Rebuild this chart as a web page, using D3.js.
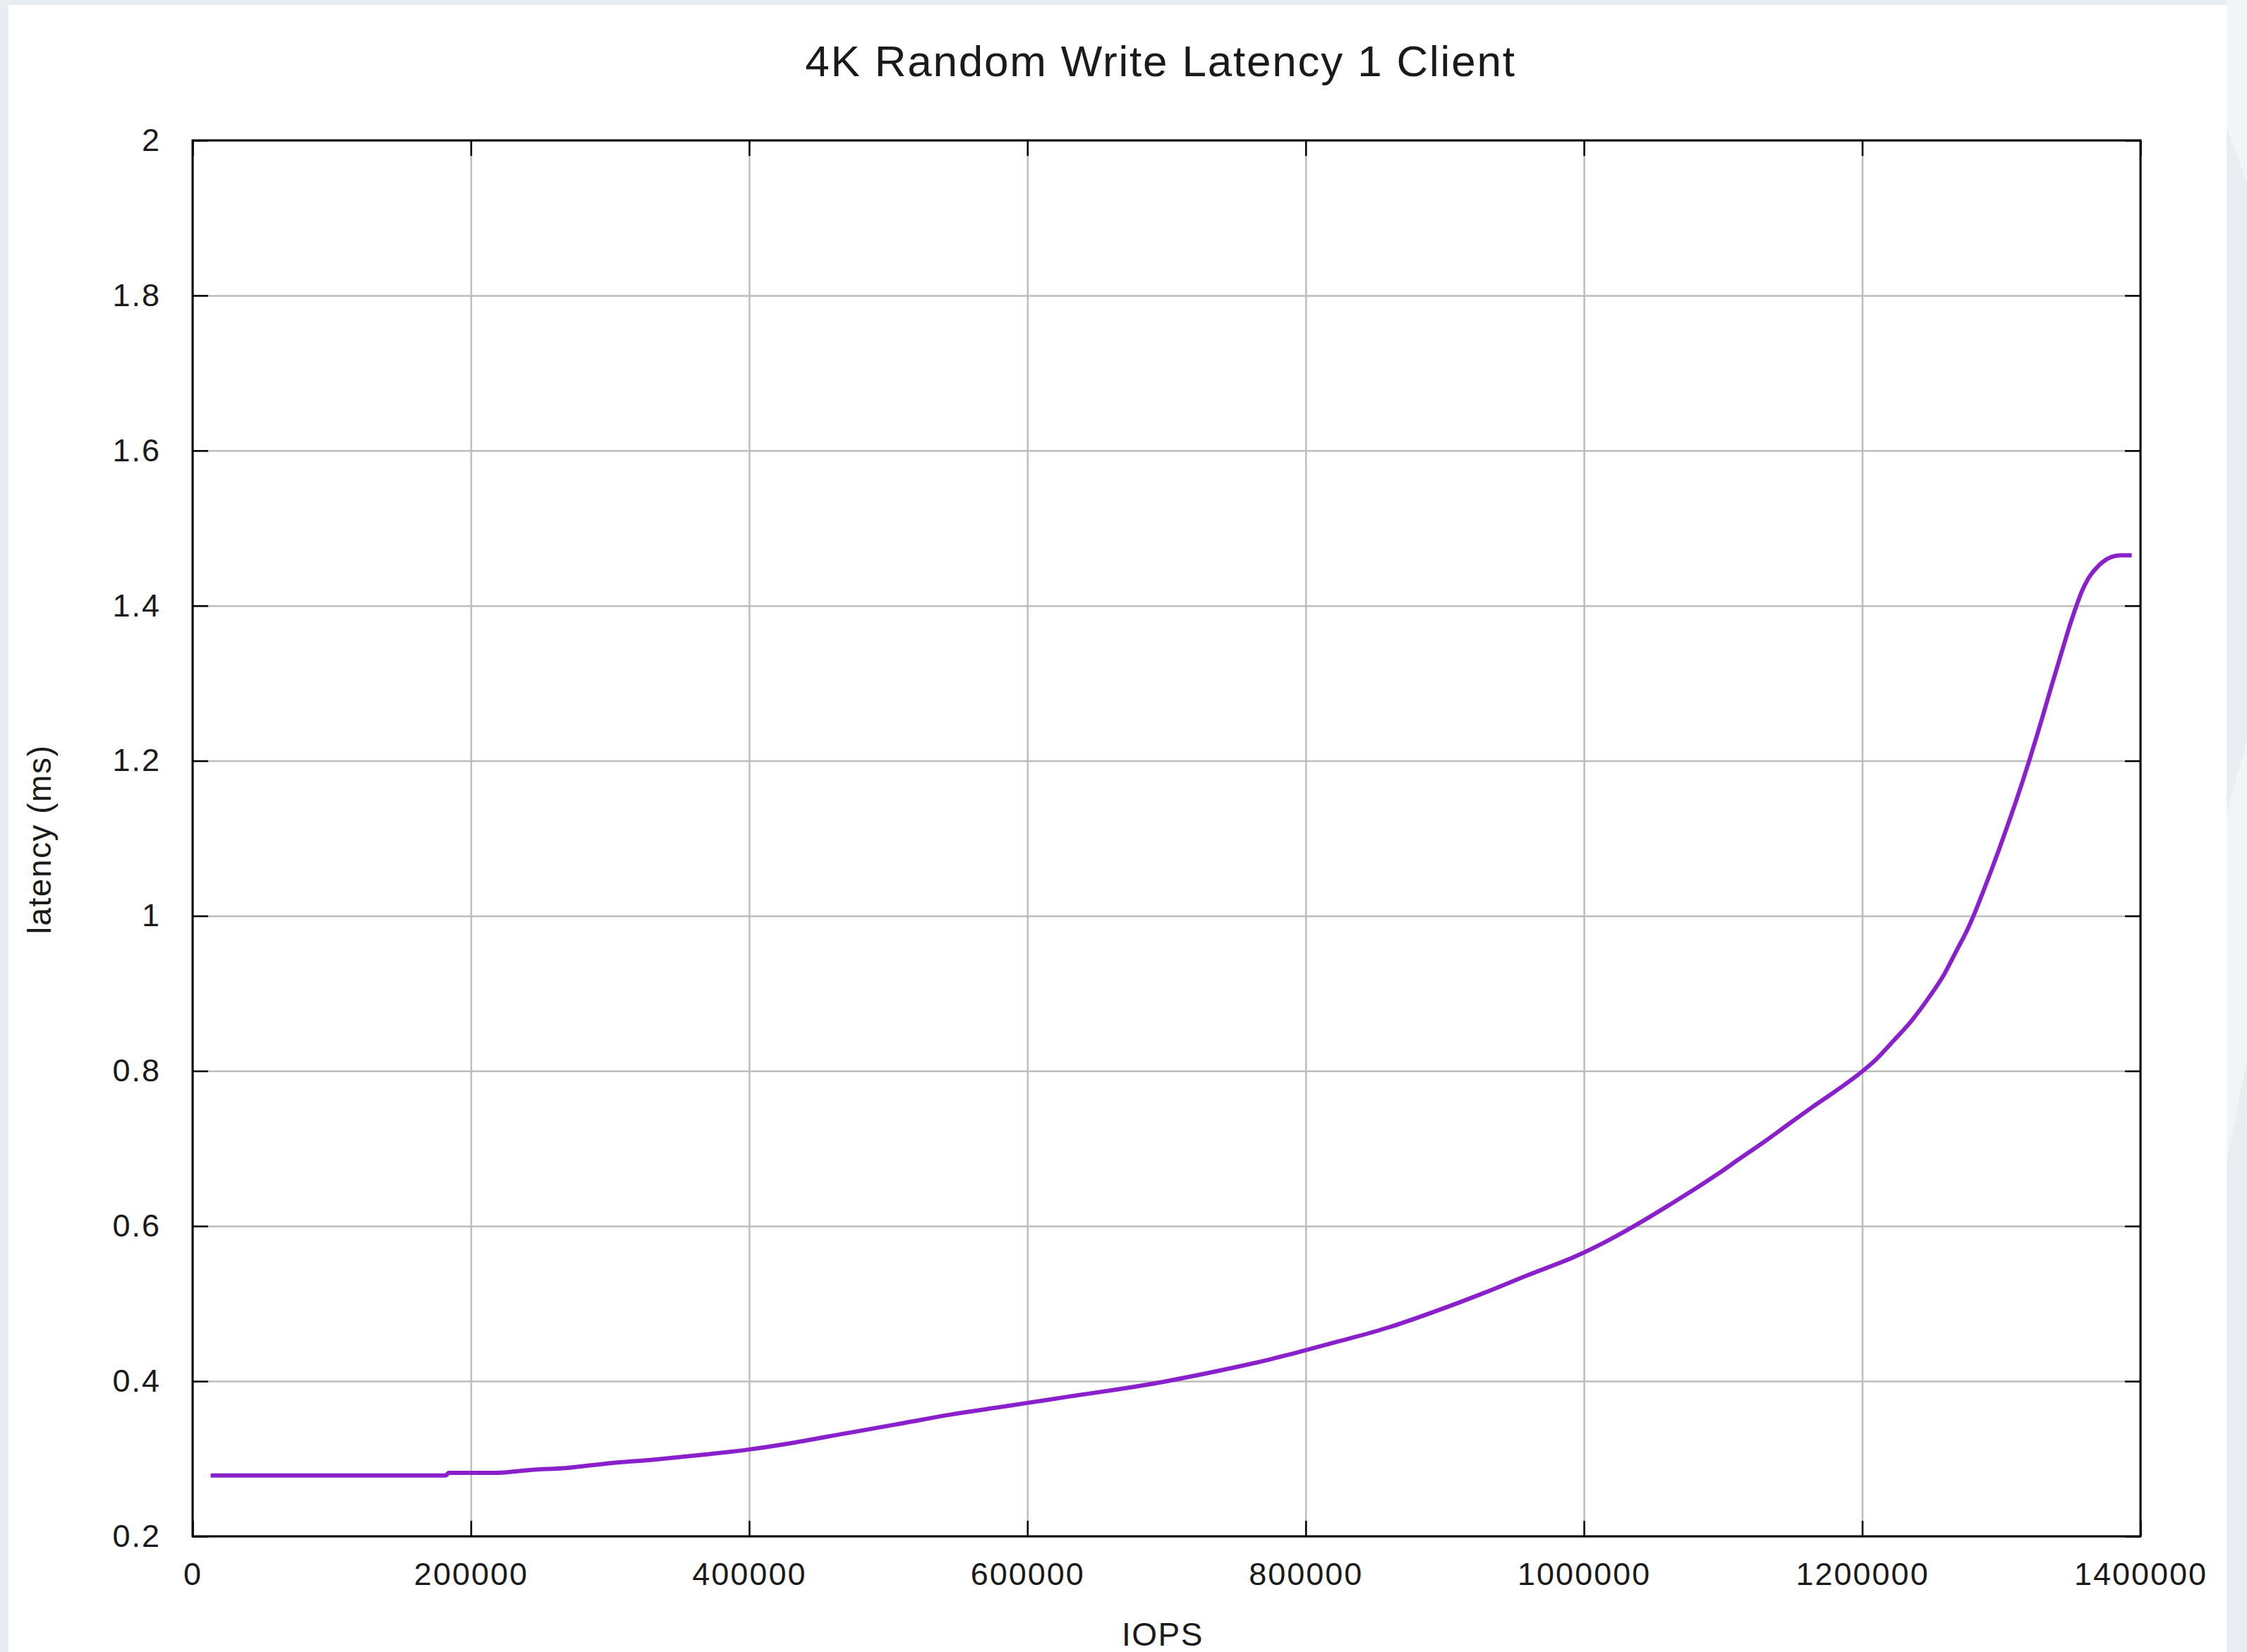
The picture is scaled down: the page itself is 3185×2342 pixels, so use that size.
<!DOCTYPE html>
<html>
  <head>
    <script src="https://d3js.org/d3.v7.min.js"></script>
    <style>
      body { margin: 0; background: #e7edf0; }
      svg { display: block; }
      text { font-family: "Liberation Sans", Arial, sans-serif; fill: #1a1a1a; }
    </style>
  </head>
  <body>
    <svg id="chart" width="3185" height="2342"></svg>

    <script>
      // data
      const iops = [13000, 100000, 182000, 184000, 217000, 246000, 268000, 298000, 332000, 366000,
        400000, 433000, 467000, 511000, 545000, 578000, 600000, 629000, 663000, 697000,
        731000, 774000, 800000, 825000, 859000, 893000, 927000, 960000, 994000, 1020000,
        1037000, 1062000, 1079000, 1096000, 1112000, 1129000, 1146000, 1163000, 1180000,
        1199000, 1210000, 1222000, 1236000, 1248000, 1259000, 1268000, 1275000, 1280000, 1286000,
        1292000, 1298000, 1304000, 1310000, 1315000, 1320000, 1325000, 1330000, 1335000, 1340000,
        1345000, 1350000, 1354000, 1358000, 1362500, 1367500, 1372600, 1379400, 1386100,
        1393700]
      const latency = [0.2785, 0.2785, 0.2785, 0.2818, 0.2818, 0.286, 0.288, 0.294, 0.299, 0.305,
        0.312, 0.321, 0.332, 0.346, 0.357, 0.366, 0.372, 0.380, 0.389, 0.399,
        0.411, 0.428, 0.440, 0.452, 0.469, 0.490, 0.513, 0.537, 0.561, 0.584,
        0.601, 0.628, 0.647, 0.667, 0.687, 0.708, 0.730, 0.752, 0.773,
        0.798, 0.815, 0.838, 0.866, 0.895, 0.925, 0.956, 0.980, 1.0, 1.027,
        1.055, 1.084, 1.114, 1.145, 1.172, 1.200, 1.229, 1.259, 1.290, 1.320,
        1.350, 1.379, 1.400, 1.419, 1.435, 1.447, 1.456, 1.463, 1.465,
        1.465]
      const xTicks = [0, 200000, 400000, 600000, 800000, 1000000, 1200000, 1400000]
      const yTicks = [0.2, 0.4, 0.6, 0.8, 1, 1.2, 1.4, 1.6, 1.8, 2]

      const title = "4K Random Write Latency 1 Client"
      const xLabel = "IOPS"
      const yLabel = "latency (ms)"

      var plotLeft = 273, plotRight = 3034, plotTop = 199, plotBottom = 2178
      var w = plotRight - plotLeft, h = plotBottom - plotTop

      var svg = d3.select("#chart")

      // white page over the grey backdrop
      svg.append("polygon")
        .attr("points", "3156,0 3185,0 3185,260 3156,180")
        .attr("fill", "#f1f5f7")
      svg.append("polygon")
        .attr("points", "3156,1150 3185,1050 3185,1500 3156,1650")
        .attr("fill", "#f1f5f7")
      svg.append("rect")
        .attr("x", 12).attr("y", 7)
        .attr("width", 3144).attr("height", 2335)
        .attr("fill", "#ffffff")

      var x = d3.scaleLinear().domain([0, 1400000]).range([0, w])
      var y = d3.scaleLinear().domain([0.2, 2]).range([h, 0])

      var g = svg.append("g").attr("transform", "translate(" + plotLeft + "," + plotTop + ")")

      // grid
      g.append("g")
        .attr("transform", "translate(0," + h + ")")
        .call(d3.axisBottom(x).tickValues(xTicks).tickSize(-h).tickFormat(""))
        .call(a => a.select(".domain").remove())
        .call(a => a.selectAll("line").attr("stroke", "#bdbdbd").attr("stroke-width", 2.5))
      g.append("g")
        .call(d3.axisLeft(y).tickValues(yTicks).tickSize(-w).tickFormat(""))
        .call(a => a.select(".domain").remove())
        .call(a => a.selectAll("line").attr("stroke", "#bdbdbd").attr("stroke-width", 2.5))

      // ticks on all four sides, pointing in
      function styleAxis(a) {
        a.select(".domain").remove()
        a.selectAll("line").attr("stroke", "#000").attr("stroke-width", 2.5)
      }
      g.append("g")
        .attr("transform", "translate(0," + h + ")")
        .call(d3.axisBottom(x).tickValues(xTicks).tickSize(-22).tickPadding(37).tickFormat(d3.format("d")))
        .call(styleAxis)
        .call(a => a.selectAll("text").attr("font-size", 45).attr("dy", "0.71em")
          .style("font-family", "Liberation Sans, Arial").style("letter-spacing", "2px"))
      g.append("g")
        .call(d3.axisTop(x).tickValues(xTicks).tickSize(-22).tickFormat(""))
        .call(styleAxis)
      g.append("g")
        .call(d3.axisLeft(y).tickValues(yTicks).tickSize(-22).tickPadding(45).tickFormat(d3.format("")))
        .call(styleAxis)
        .call(a => a.selectAll("text").attr("font-size", 45)
          .style("font-family", "Liberation Sans, Arial").style("letter-spacing", "2px"))
      g.append("g")
        .attr("transform", "translate(" + w + ",0)")
        .call(d3.axisRight(y).tickValues(yTicks).tickSize(-22).tickFormat(""))
        .call(styleAxis)

      // the curve
      var pts = iops.map((d, i) => [d, latency[i]])
      g.append("path")
        .datum(pts)
        .attr("fill", "none")
        .attr("stroke", "#8a20cb")
        .attr("stroke-width", 6)
        .attr("stroke-linejoin", "round")
        .attr("d", d3.line().curve(d3.curveMonotoneX).x(d => x(d[0])).y(d => y(d[1])))

      // frame
      g.append("rect")
        .attr("width", w).attr("height", h)
        .attr("fill", "none")
        .attr("stroke", "#000")
        .attr("stroke-width", 3)

      svg.append("text")
        .attr("x", 1645).attr("y", 108)
        .attr("text-anchor", "middle")
        .style("font-size", "62px")
        .style("letter-spacing", "1.8px")
        .text(title)

      svg.append("text")
        .attr("x", 1648).attr("y", 2333)
        .attr("text-anchor", "middle")
        .style("font-size", "46px")
        .style("letter-spacing", "1.5px")
        .text(xLabel)

      svg.append("text")
        .attr("transform", "translate(72,1190) rotate(-90)")
        .attr("text-anchor", "middle")
        .style("font-size", "46px")
        .style("letter-spacing", "1.5px")
        .text(yLabel)
    </script>
  </body>
</html>
